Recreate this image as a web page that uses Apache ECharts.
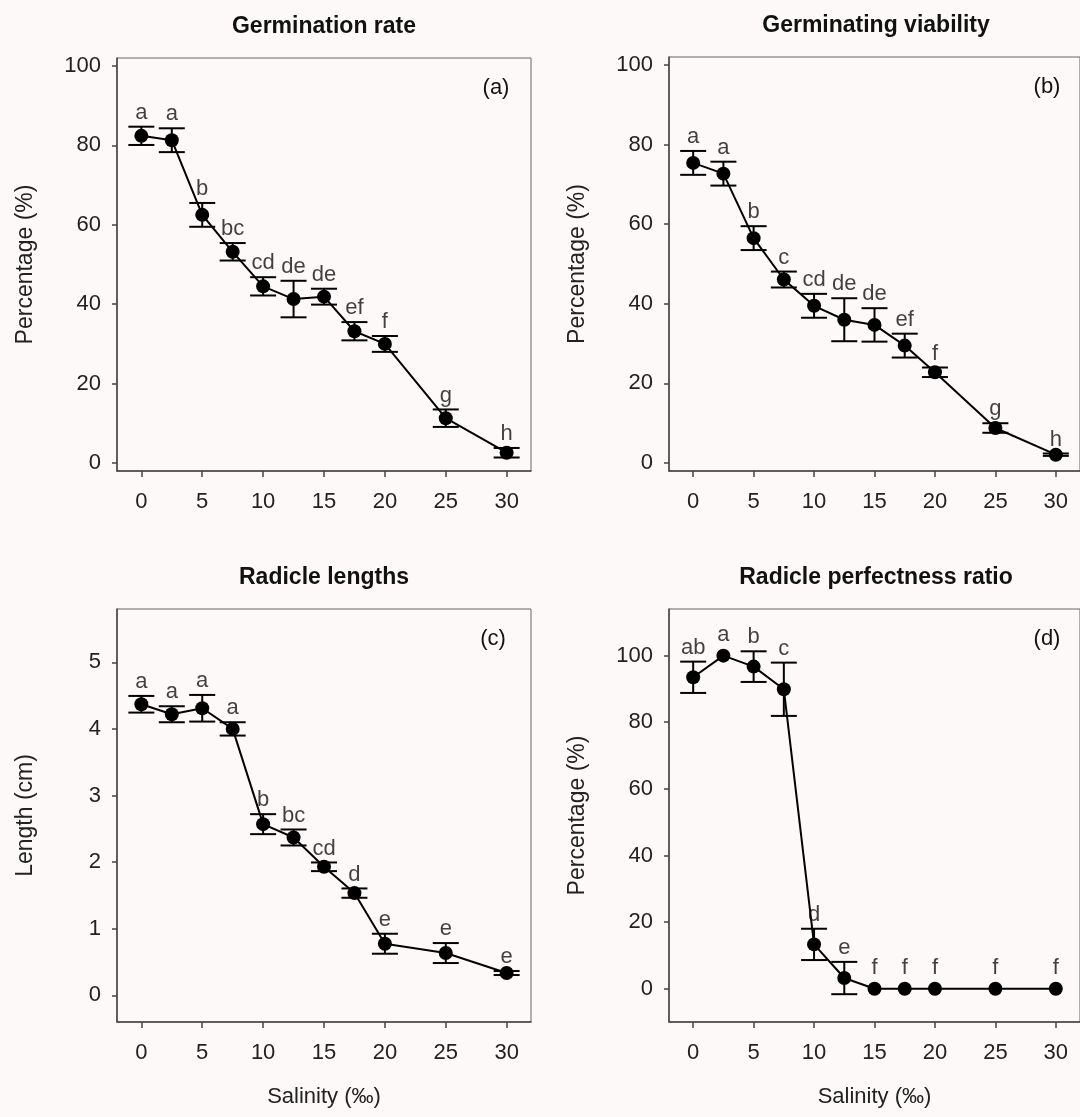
<!DOCTYPE html>
<html>
<head>
<meta charset="utf-8">
<script src="https://cdn.jsdelivr.net/npm/echarts@6/dist/echarts.min.js"></script>
<style>
html,body{margin:0;padding:0;background:#fdf9f8;}
#chart{width:1080px;height:1117px;}
</style>
</head>
<body>
<div id="chart"></div>
<script>
// ---- Data ----
const salinity = [0, 2.5, 5, 7.5, 10, 12.5, 15, 17.5, 20, 25, 30];
const xTicks = [0, 5, 10, 15, 20, 25, 30];

const rateMean = [82.4, 81.3, 62.5, 53.2, 44.5, 41.3, 41.9, 33.2, 30.0, 11.3, 2.6];
const rateErr = [2.3, 3.0, 3.0, 2.2, 2.3, 4.6, 2.0, 2.3, 2.0, 2.2, 1.2];
const rateLetters = ['a', 'a', 'b', 'bc', 'cd', 'de', 'de', 'ef', 'f', 'g', 'h'];

const viabMean = [75.4, 72.7, 56.5, 46.1, 39.5, 36.0, 34.7, 29.5, 22.8, 8.8, 2.1];
const viabErr = [3.0, 3.0, 3.0, 2.0, 3.0, 5.4, 4.2, 3.0, 1.2, 1.2, 0.3];
const viabLetters = ['a', 'a', 'b', 'c', 'cd', 'de', 'de', 'ef', 'f', 'g', 'h'];

const lenMean = [4.37, 4.22, 4.31, 4.0, 2.57, 2.37, 1.93, 1.535, 0.775, 0.635, 0.335];
const lenErr = [0.125, 0.12, 0.2, 0.1, 0.15, 0.12, 0.065, 0.07, 0.15, 0.15, 0.03];
const lenLetters = ['a', 'a', 'a', 'a', 'b', 'bc', 'cd', 'd', 'e', 'e', 'e'];

const perfMean = [93.5, 100, 96.7, 89.9, 13.3, 3.2, 0, 0, 0, 0, 0];
const perfErr = [4.7, 0, 4.6, 8.0, 4.7, 4.85, 0, 0, 0, 0, 0];
const perfLetters = ['ab', 'a', 'b', 'c', 'd', 'e', 'f', 'f', 'f', 'f', 'f'];

const pctTicks = [0, 20, 40, 60, 80, 100];
const lenTicks = [0, 1, 2, 3, 4, 5];

const titles = ['Germination rate', 'Germinating viability', 'Radicle lengths', 'Radicle perfectness ratio'];
const panelTags = ['(a)', '(b)', '(c)', '(d)'];
const yNames = ['Percentage (%)', 'Percentage (%)', 'Length (cm)', 'Percentage (%)'];
const xName = 'Salinity (‰)';

// ---- Layout ----
const FONT = '"Liberation Sans", Arial, sans-serif';
const panels = [
  {mean: rateMean, err: rateErr, letters: rateLetters, ymin: -2, ymax: 102, yt: pctTicks,
   grid: {left: 117, top: 58, width: 414, height: 413}, tagX: 496},
  {mean: viabMean, err: viabErr, letters: viabLetters, ymin: -2, ymax: 102, yt: pctTicks,
   grid: {left: 669, top: 57, width: 414, height: 414}, tagX: 1047},
  {mean: lenMean, err: lenErr, letters: lenLetters, ymin: -0.4, ymax: 5.8, yt: lenTicks,
   grid: {left: 117, top: 609, width: 414, height: 413}, tagX: 493},
  {mean: perfMean, err: perfErr, letters: perfLetters, ymin: -10, ymax: 114, yt: pctTicks,
   grid: {left: 669, top: 609, width: 414, height: 413}, tagX: 1047}
];

const grids = [], xAxes = [], yAxes = [], series = [], graphics = [];

panels.forEach((p, i) => {
  grids.push(Object.assign({show: true, borderColor: '#666', borderWidth: 1, backgroundColor: 'transparent'}, p.grid));
  xAxes.push({
    type: 'value', gridIndex: i, min: -2, max: 32,
    axisLine: {show: true, onZero: false, lineStyle: {color: '#444', width: 1.5}},
    axisTick: {show: true, length: 6, customValues: xTicks, lineStyle: {color: '#444', width: 1.5}},
    axisLabel: {customValues: xTicks, color: '#222', fontSize: 22, fontFamily: FONT, margin: 20},
    splitLine: {show: false},
    name: i >= 2 ? xName : '', nameLocation: 'middle', nameGap: 64,
    nameTextStyle: {color: '#222', fontSize: 22, fontFamily: FONT}
  });
  yAxes.push({
    type: 'value', gridIndex: i, min: p.ymin, max: p.ymax,
    axisLine: {show: true, onZero: false, lineStyle: {color: '#444', width: 1.5}},
    axisTick: {show: true, length: 5, customValues: p.yt, lineStyle: {color: '#444', width: 1.5}},
    axisLabel: {customValues: p.yt, color: '#222', fontSize: 22, fontFamily: FONT, margin: 16},
    splitLine: {show: false},
    name: yNames[i], nameLocation: 'middle', nameGap: 80,
    nameTextStyle: {color: '#222', fontSize: 23, fontFamily: FONT}
  });
  const lineData = salinity.map((s, k) => [s, p.mean[k]]);
  const errData = salinity.map((s, k) => [s, p.mean[k], p.err[k]]);
  series.push({
    type: 'custom', xAxisIndex: i, yAxisIndex: i, data: errData, silent: true, z: 3,
    renderItem: function (params, api) {
      const x = api.value(0), y = api.value(1), e = api.value(2);
      if (!e) return null;
      const t = api.coord([x, y + e]);
      const b = api.coord([x, y - e]);
      const hw = 13;
      const st = {stroke: '#000', lineWidth: 2};
      return {type: 'group', children: [
        {type: 'line', shape: {x1: t[0], y1: t[1], x2: b[0], y2: b[1]}, style: st},
        {type: 'line', shape: {x1: t[0] - hw, y1: t[1], x2: t[0] + hw, y2: t[1]}, style: st},
        {type: 'line', shape: {x1: b[0] - hw, y1: b[1], x2: b[0] + hw, y2: b[1]}, style: st}
      ]};
    }
  });
  series.push({
    type: 'line', xAxisIndex: i, yAxisIndex: i, data: lineData, z: 4,
    symbol: 'circle', symbolSize: 14, showAllSymbol: true,
    lineStyle: {color: '#000', width: 2}, itemStyle: {color: '#000'},
    animation: false
  });
  series.push({
    type: 'scatter', xAxisIndex: i, yAxisIndex: i, symbolSize: 0, z: 5,
    data: salinity.map((s, k) => ({
      value: [s, p.mean[k] + p.err[k]],
      label: {distance: p.err[k] ? 3 : 10}
    })),
    label: {
      show: true, position: 'top',
      formatter: (d) => p.letters[d.dataIndex],
      color: '#111', fontSize: 22, fontFamily: FONT
    },
    silent: true, animation: false
  });
  const g = p.grid;
  graphics.push({
    type: 'text', x: g.left + 207, y: g.top - 31,
    style: {text: titles[i], fontSize: 23, fontWeight: 'bold', fontFamily: FONT, fill: '#111', textAlign: 'center', textVerticalAlign: 'middle'}
  });
  graphics.push({
    type: 'text', x: p.tagX, y: g.top + 30,
    style: {text: panelTags[i], fontSize: 22, fontFamily: FONT, fill: '#111', textAlign: 'center', textVerticalAlign: 'middle'}
  });
});

const chart = echarts.init(document.getElementById('chart'), null, {renderer: 'canvas'});
chart.setOption({
  backgroundColor: '#fdf9f8',
  animation: false,
  grid: grids, xAxis: xAxes, yAxis: yAxes, series: series,
  graphic: graphics
});
</script>
</body>
</html>
